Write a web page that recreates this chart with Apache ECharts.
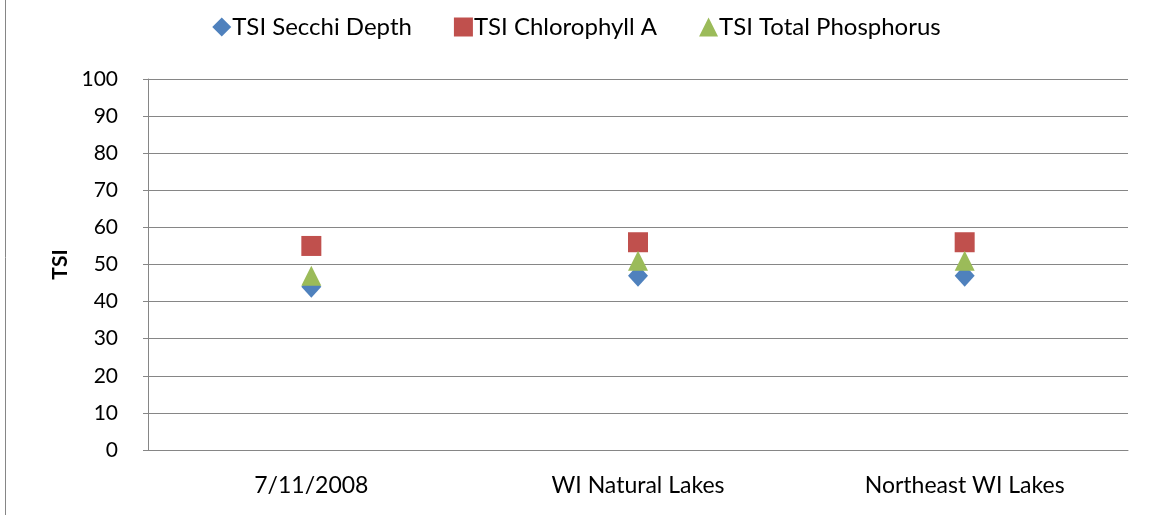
<!DOCTYPE html>
<html>
<head>
<meta charset="utf-8">
<script src="https://cdn.jsdelivr.net/npm/echarts@6/dist/echarts.min.js"></script>
<style>
  html, body { margin: 0; padding: 0; background: #fff; }
  #chart { width: 1153px; height: 515px; }
</style>
</head>
<body>
<div id="chart"></div>
<script>
const categories = ['7/11/2008', 'WI Natural Lakes', 'Northeast WI Lakes']
const secchi = [44, 47, 47]
const chlorophyll = [55, 56, 56]
const phosphorus = [47, 51, 51]
const yTicks = [0, 10, 20, 30, 40, 50, 60, 70, 80, 90, 100]

const font = 'Lato, "Open Sans", sans-serif'
const chart = echarts.init(document.getElementById('chart'))

chart.setOption({
  backgroundColor: '#ffffff',
  animation: false,
  textStyle: { fontFamily: font },
  graphic: [
    { type: 'line', shape: { x1: 5.5, y1: 0, x2: 5.5, y2: 515 }, style: { stroke: '#868686', lineWidth: 1 } }
  ],
  legend: {
    top: 10,
    left: 'center',
    itemGap: 42,
    itemWidth: 19,
    itemHeight: 19,
    textStyle: { fontSize: 24, color: '#000', fontFamily: font, padding: [0, 0, 0, -4] },
    data: ['TSI Secchi Depth', 'TSI Chlorophyll A', 'TSI Total Phosphorus']
  },
  grid: { left: 148, right: 25, top: 79, bottom: 65 },
  xAxis: {
    type: 'category',
    data: categories,
    axisLine: { lineStyle: { color: '#868686' } },
    axisTick: { show: false },
    axisLabel: { fontSize: 23, color: '#000', margin: 24, fontFamily: font }
  },
  yAxis: {
    type: 'value',
    min: yTicks[0],
    max: yTicks[yTicks.length - 1],
    interval: 10,
    name: 'TSI',
    nameLocation: 'middle',
    nameGap: 76,
    nameRotate: 90,
    nameTextStyle: { fontSize: 21, fontWeight: 'bold', color: '#000', fontFamily: font },
    axisLine: { show: true, lineStyle: { color: '#868686' } },
    axisTick: { show: true, length: 5, lineStyle: { color: '#868686' } },
    splitLine: { lineStyle: { color: '#868686' } },
    axisLabel: { fontSize: 21, color: '#000', margin: 30, fontFamily: font }
  },
  series: [
    {
      name: 'TSI Secchi Depth',
      type: 'scatter',
      data: secchi,
      symbol: 'diamond',
      symbolSize: [20, 22],
      itemStyle: { color: '#4f81bd', opacity: 1 },
      z: 2
    },
    {
      name: 'TSI Chlorophyll A',
      type: 'scatter',
      data: chlorophyll,
      symbol: 'rect',
      symbolSize: 20,
      itemStyle: { color: '#c0504d', opacity: 1 },
      z: 3
    },
    {
      name: 'TSI Total Phosphorus',
      type: 'scatter',
      data: phosphorus,
      symbol: 'triangle',
      symbolSize: [20, 20],
      itemStyle: { color: '#9bbb59', opacity: 1 },
      z: 4
    }
  ]
})
</script>
</body>
</html>
